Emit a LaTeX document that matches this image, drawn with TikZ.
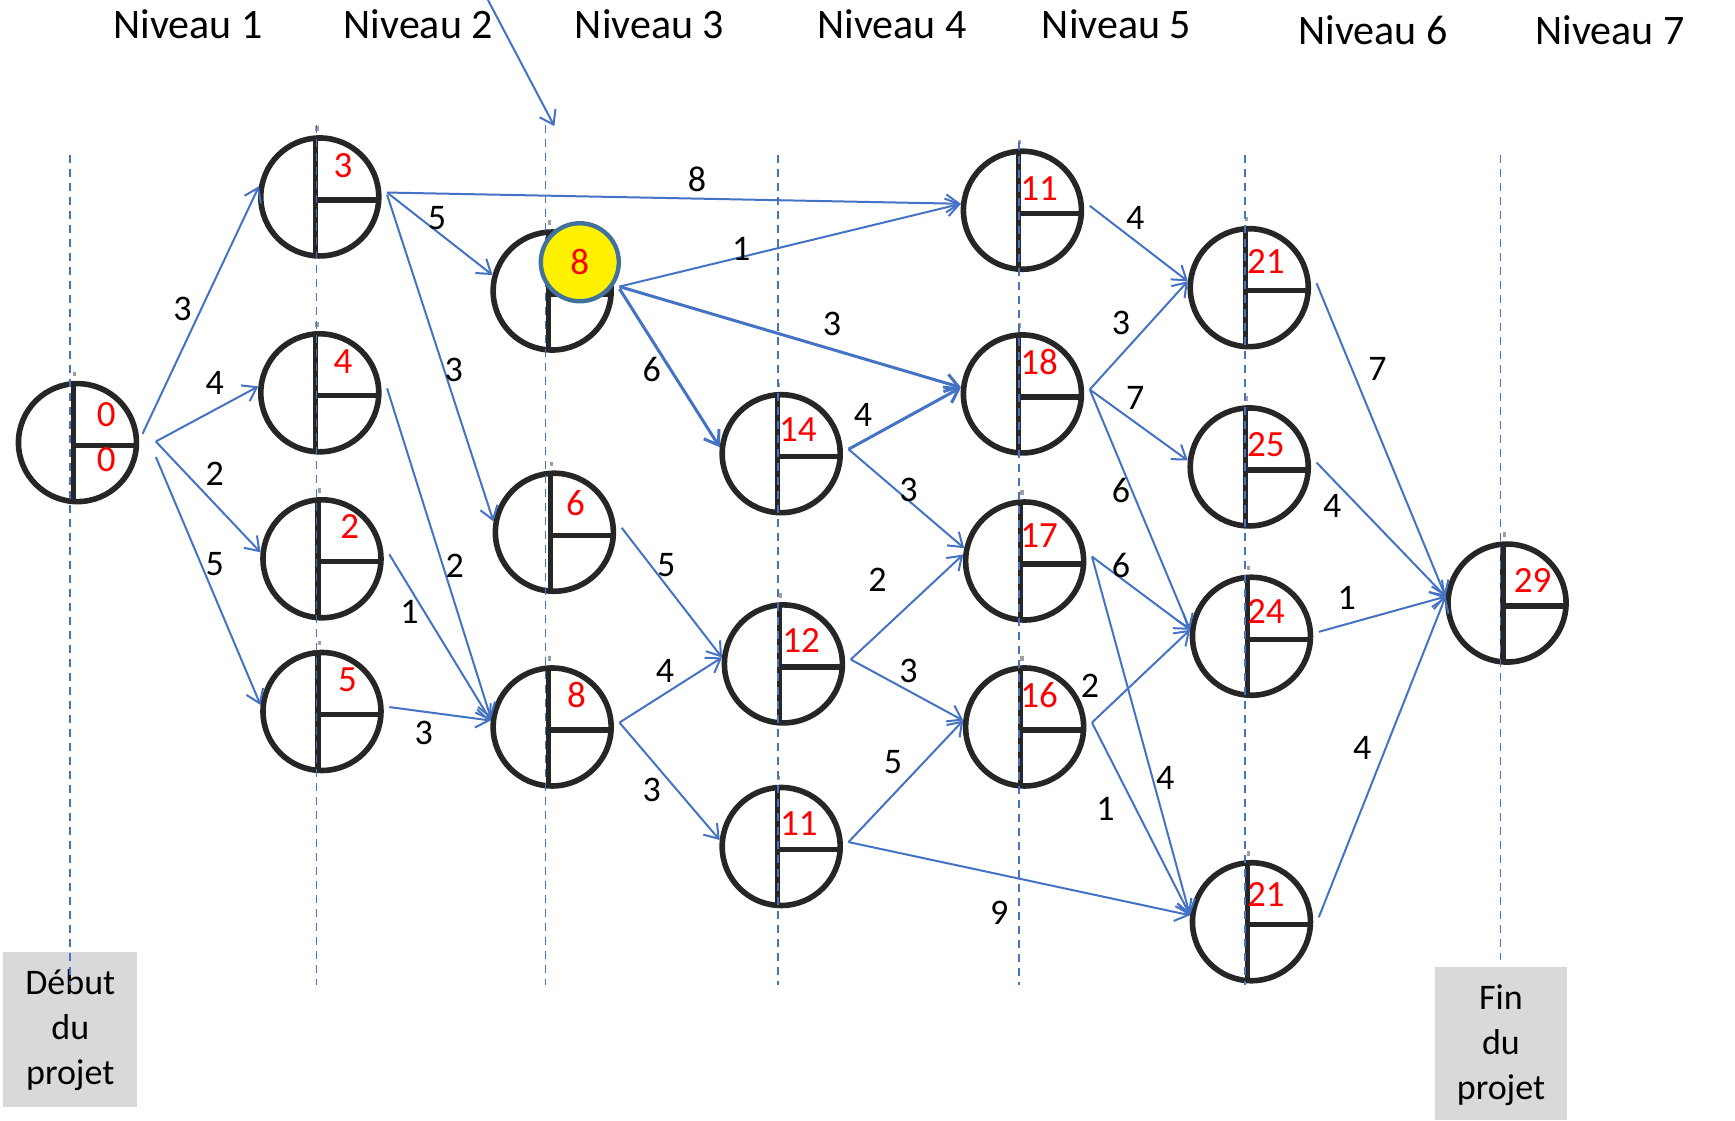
\documentclass[tikz,border=0pt]{standalone}
\usepackage{fontspec}
\setmainfont{Carlito}
\usetikzlibrary{arrows.meta}
\definecolor{edgeblue}{HTML}{4472C4}
\definecolor{ringgray}{HTML}{262626}
\definecolor{hlborder}{HTML}{41719C}
\definecolor{boxgray}{HTML}{D9D9D9}
\definecolor{numred}{HTML}{FF0000}
\newcommand\edg[3][]{\draw[edge,#1] ([shift={(5,-4)}]#2.east) -- (#3.174);}
\begin{document}
\begin{tikzpicture}[x=0.5533pt,y=-0.5533pt,
  evt/.style={circle, draw=ringgray, line width=2.8pt, minimum size=59pt, inner sep=0pt, fill=white,
    path picture={
      \draw[ringgray,line width=2.6pt] ([xshift=-2pt]path picture bounding box.north) -- ([xshift=-2pt]path picture bounding box.south);
      \draw[ringgray,line width=2.6pt] ([shift={(-2pt,-1.5pt)}]path picture bounding box.center) -- ([yshift=-1.5pt]path picture bounding box.east);}},
  tick/.style={fill=gray!75, draw=none},
  num/.style={text=numred, font=\fontsize{18.5}{22}\selectfont, inner sep=0pt},
  wt/.style={font=\fontsize{18}{22}\selectfont, inner sep=0pt},
  lvl/.style={font=\fontsize{21}{25}\selectfont, inner sep=0pt},
  edge/.style={draw=edgeblue, line width=1pt, -{Straight Barb[length=6.5pt,width=9pt]}},
  guide/.style={draw=edgeblue, line width=0.9pt, dash pattern=on 4pt off 3pt},
  endbox/.style={fill=boxgray, draw=none},
  boxtext/.style={font=\fontsize{18}{22.5}\selectfont, align=center, inner sep=0pt},
  hl/.style={circle, fill=yellow, draw=hlborder, line width=2.2pt, minimum size=39pt, inner sep=0pt, text=numred, font=\fontsize{18.5}{22}\selectfont}
]
\useasboundingbox (0,0) rectangle (1568,1013);

% end boxes
\path[endbox] (3,860) rectangle (124,1000);
\path[endbox] (1297,874) rectangle (1416,1012);
\node[boxtext] (debut) at (63.5,931) {Début\\du\\projet};
\node[boxtext] (fin) at (1356.5,945) {Fin\\du\\projet};

% level titles
\node[lvl] (lv1) at (170,22) {Niveau 1};
\node[lvl] (lv2) at (378,22) {Niveau 2};
\node[lvl] (lv3) at (587,22) {Niveau 3};
\node[lvl] (lv4) at (806,22) {Niveau 4};
\node[lvl] (lv5) at (1009,22) {Niveau 5};
\node[lvl] (lv6) at (1241,27) {Niveau 6};
\node[lvl] (lv7) at (1455,27) {Niveau 7};

% events
\node[evt] (s0) at (70,400) {};
\node[evt] (a3) at (289,178) {};
\node[evt] (b4) at (289,355) {};
\node[evt] (c2) at (291,505) {};
\node[evt] (d5) at (291,643) {};
\node[evt] (e8) at (499,263) {};
\node[evt] (f6) at (501,481) {};
\node[evt] (g8) at (499,657) {};
\node[evt] (h14) at (706,410) {};
\node[evt] (i12) at (708,600) {};
\node[evt] (j11) at (706,765) {};
\node[evt] (k11) at (924,190) {};
\node[evt] (l18) at (924,356) {};
\node[evt] (m17) at (926,507) {};
\node[evt] (n16) at (926,657) {};
\node[evt] (o21) at (1129,260) {};
\node[evt] (p25) at (1129,422) {};
\node[evt] (q24) at (1131,575) {};
\node[evt] (r21) at (1131,833) {};
\node[evt] (z29) at (1362,545) {};

% small marks above each event
\foreach \n in {s0,a3,b4,c2,d5,e8,f6,g8,h14,i12,j11,k11,l18,m17,n16,o21,p25,q24,r21,z29}
  \path[tick] ([shift={(-4,-4)}]\n.north) rectangle ([shift={(-1,-8)}]\n.north);

% dashed level guides
\draw[guide] (63,140) -- (63,890);
\draw[guide] (286,113) -- (286,890);
\draw[guide] (493,113) -- (493,890);
\draw[guide] (703,140) -- (703,890);
\draw[guide] (921,128) -- (921,890);
\draw[guide] (1125,140) -- (1125,890);
\draw[guide] (1356,140) -- (1356,868);

% numbers inside events
\node[num] (t0a) at (96,375) {0};
\node[num] (t0b) at (96,415) {0};
\node[num] (ta3) at (310,150) {3};
\node[num] (tb4) at (310,327) {4};
\node[num] (tc2) at (316,476) {2};
\node[num] (td5) at (314,614) {5};
\node[num] (tf6) at (520,455) {6};
\node[num] (tg8) at (521,628) {8};
\node[num] (th14) at (721,388) {14};
\node[num] (ti12) at (724,579) {12};
\node[num] (tj11) at (722,744) {11};
\node[num] (tk11) at (939,170) {11};
\node[num] (tl18) at (939,327) {18};
\node[num] (tm17) at (939,484) {17};
\node[num] (tn16) at (939,628) {16};
\node[num] (to21) at (1144,236) {21};
\node[num] (tp25) at (1144,402) {25};
\node[num] (tq24) at (1144,553) {24};
\node[num] (tr21) at (1144,808) {21};
\node[num] (tz29) at (1385,525) {29};

% highlighted value
\node[hl] (hl8) at (524,237) {8};

% pointer arrow
\coordinate (ptA) at (441,0);
\coordinate (ptB) at (501,114);
\draw[edge] (ptA) -- (ptB);

% connectors
\draw[edge] ([shift={(3,-8)}]s0.east) -- (a3.170);
\draw[edge] ([shift={(15,-1)}]s0.east) -- (b4.174);
\draw[edge] ([shift={(15,-1)}]s0.east) -- (c2.174);
\draw[edge] ([shift={(15,13)}]s0.east) -- (d5.174);
\edg{a3}{k11}
\draw[edge] ([shift={(5,-4)}]a3.east) -- (e8.165);
\draw[edge] ([shift={(5,-2)}]a3.east) -- (f6.170);
\draw[edge] ([shift={(5,-4)}]b4.east) -- (g8.172);
\edg{c2}{g8}
\edg{d5}{g8}
\edg{e8}{k11}
\edg[line width=1.5pt]{e8}{l18}
\draw[edge,line width=1.5pt] ([shift={(5,-2)}]e8.east) -- (h14.174);
\edg{f6}{i12}
\edg{g8}{i12}
\edg{g8}{j11}
\edg[line width=1.5pt]{h14}{l18}
\draw[edge] ([shift={(5,-4)}]h14.east) -- (m17.168);
\edg{i12}{m17}
\edg{i12}{n16}
\edg{j11}{n16}
\edg{j11}{r21}
\edg{k11}{o21}
\edg{l18}{o21}
\edg{l18}{p25}
\edg{l18}{q24}
\edg{m17}{q24}
\edg{m17}{r21}
\edg{n16}{q24}
\edg{n16}{r21}
\edg{o21}{z29}
\edg{p25}{z29}
\edg{q24}{z29}
\edg{r21}{z29}

% weights
\node[wt] (w1) at (165,279) {3};
\node[wt] (w2) at (194,346) {4};
\node[wt] (w3) at (194,428) {2};
\node[wt] (w4) at (194,510) {5};
\node[wt] (w5) at (630,162) {8};
\node[wt] (w6) at (395,197) {5};
\node[wt] (w7) at (410,334) {3};
\node[wt] (w8) at (411,511) {2};
\node[wt] (w9) at (370,553) {1};
\node[wt] (w10) at (383,662) {3};
\node[wt] (w11) at (670,225) {1};
\node[wt] (w12) at (752,293) {3};
\node[wt] (w13) at (589,334) {6};
\node[wt] (w14) at (602,511) {5};
\node[wt] (w15) at (601,606) {4};
\node[wt] (w16) at (589,714) {3};
\node[wt] (w17) at (780,375) {4};
\node[wt] (w18) at (821,443) {3};
\node[wt] (w19) at (793,524) {2};
\node[wt] (w20) at (821,606) {3};
\node[wt] (w21) at (807,689) {5};
\node[wt] (w22) at (903,825) {9};
\node[wt] (w23) at (1026,197) {4};
\node[wt] (w24) at (1013,292) {3};
\node[wt] (w25) at (1026,360) {7};
\node[wt] (w26) at (1013,443) {6};
\node[wt] (w27) at (1013,511) {6};
\node[wt] (w28) at (1053,703) {4};
\node[wt] (w29) at (985,620) {2};
\node[wt] (w30) at (999,731) {1};
\node[wt] (w31) at (1245,333) {7};
\node[wt] (w32) at (1204,457) {4};
\node[wt] (w33) at (1217,540) {1};
\node[wt] (w34) at (1231,676) {4};
\end{tikzpicture}
\end{document}
